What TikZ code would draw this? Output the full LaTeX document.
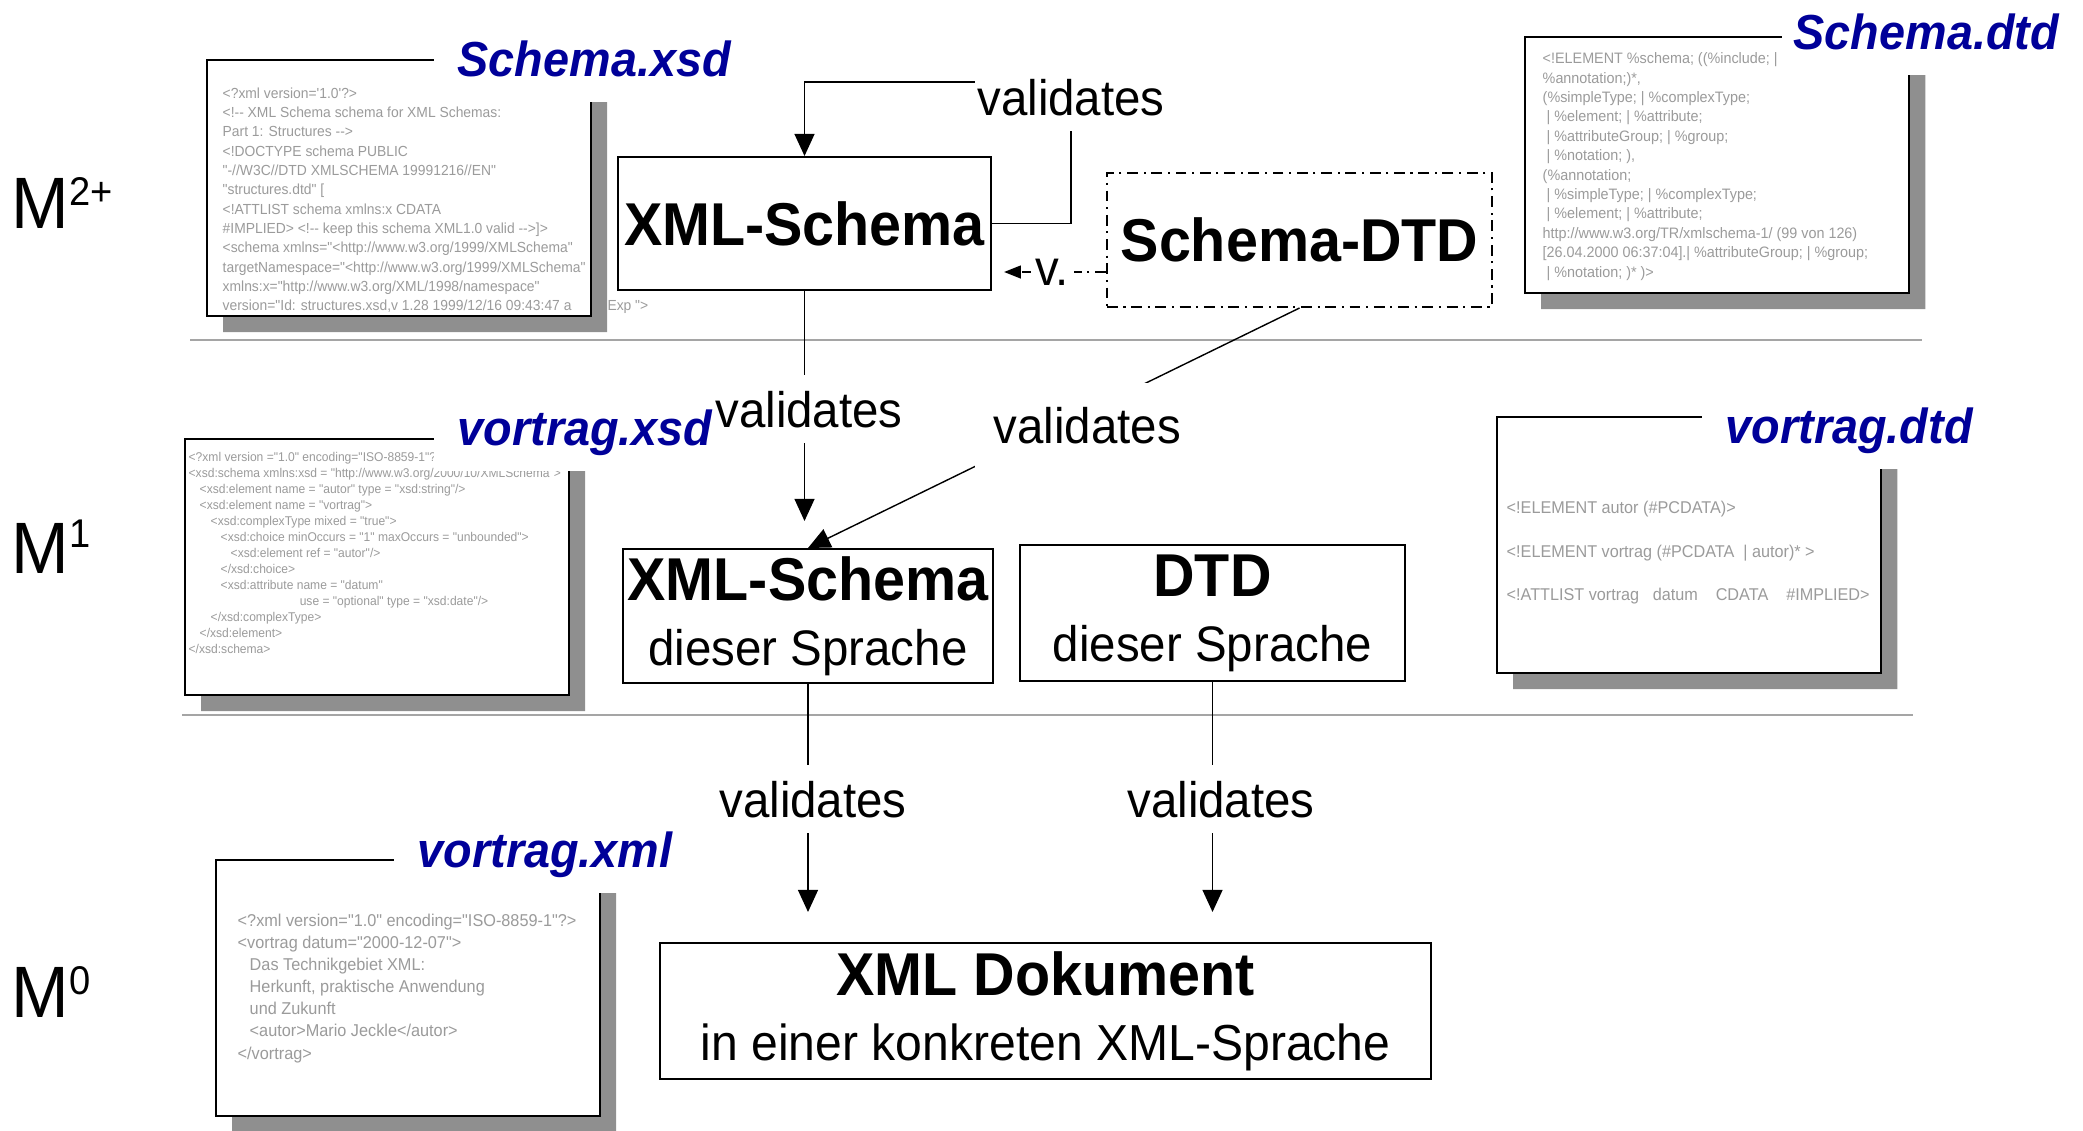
\documentclass[tikz,border=0pt]{standalone}
\usepackage{fontspec}
\setmainfont{Liberation Sans}[FakeStretch=0.95]
\newfontfamily\codefont{Liberation Sans}[FakeStretch=0.95, Ligatures=TeXOff]
\usepackage{xcolor}
\usetikzlibrary{arrows.meta,positioning,calc}

\definecolor{titleblue}{RGB}{0,0,153}
\definecolor{codegray}{RGB}{155,155,155}
\definecolor{shadegray}{RGB}{143,143,143}
\definecolor{rulegray}{RGB}{165,165,165}

\begin{document}
\begin{tikzpicture}[
    x=0.01cm, y=-0.01cm,
    mainbox/.style={rectangle, draw, line width=0.55pt, inner sep=0pt, align=center, font=\fontsize{14.2pt}{18.5pt}\selectfont},
    dashdotline/.style={dash pattern=on 3.1pt off 1.6pt on 0.6pt off 1.6pt},
    lab/.style={inner xsep=0.02cm, inner ysep=0.15cm, font=\fontsize{14.2pt}{17pt}\selectfont},
    conn/.style={line width=0.4pt},
    arr/.style={conn, -{Triangle[length=6.3pt, width=5.7pt]}},
    sheetpage/.style={rectangle, fill=white, minimum width=3.84cm, minimum height=2.56cm, anchor=north west, inner sep=0pt, outer sep=0pt},
    sheetline/.style={line width=0.6pt},
    sheetshade/.style={fill=shadegray},
    sheettitle/.style={fill=white, text=titleblue, font=\bfseries\itshape\fontsize{14pt}{16pt}\selectfont, inner xsep=0.24cm, inner ysep=0.16cm, text depth=0.1cm, anchor=base west},
    codetext/.style={text=codegray, align=left, anchor=north west, inner sep=0pt},
    mlevel/.style={font=\fontsize{20.7pt}{24pt}\selectfont, anchor=base west, inner sep=0pt},
    levelrule/.style={draw=rulegray, line width=0.65pt}
]
\useasboundingbox (0,0) rectangle (2083,1130);

% meta levels
\draw[levelrule] (190,340) -- (1922,340);
\draw[levelrule] (182,715) -- (1913,715);
\node[mlevel] (m2) at (11,228) {M\raisebox{0.22cm}{\fontsize{11.4pt}{12pt}\selectfont 2+}};
\node[mlevel] (m1) at (11,573) {M\raisebox{0.25cm}{\fontsize{11.4pt}{12pt}\selectfont 1}};
\node[mlevel] (m0) at (11,1017) {M\raisebox{0.23cm}{\fontsize{11.4pt}{12pt}\selectfont 0}};

% Schema.xsd
\node[sheetpage] (pgxsd) at (207,60) {};
\node[codetext, font=\codefont\fontsize{4.15pt}{5.49pt}\selectfont] (txxsd) at (222,87) {<?xml version='1.0'?>\\
<!-- XML Schema schema for XML Schemas:\\
Part 1: Structures -->\\
<!DOCTYPE schema PUBLIC\\
"-//W3C//DTD XMLSCHEMA 19991216//EN"\\
"structures.dtd" [\\
<!ATTLIST schema xmlns:x CDATA\\
\#IMPLIED> <!-- keep this schema XML1.0 valid -->]>\\
<schema xmlns="<http://www.w3.org/1999/XMLSchema"\\
targetNamespace="<http://www.w3.org/1999/XMLSchema"\\
xmlns:x="http://www.w3.org/XML/1998/namespace"\\
version="Id: structures.xsd,v 1.28 1999/12/16 09:43:47 a\hspace{0.36cm}Exp ">};
\fill[sheetshade] ($(pgxsd.north east)+(0,16)$) -- ++(16,0) |- ($(pgxsd.south west)+(16,16)$) -- ++(0,-16) -- (pgxsd.south east) -- cycle;
\draw[sheetline] (pgxsd.north east) rectangle (pgxsd.south west);
\node[sheettitle] (ttxsd) at (433,76) {Schema.xsd};

% Schema.dtd
\node[sheetpage] (pgsdtd) at (1525,37) {};
\node[codetext, font=\codefont\fontsize{4.3pt}{5.52pt}\selectfont] (txsdtd) at (1542,52) {<!ELEMENT \%schema; ((\%include; |\\
\%annotation;)*,\\
(\%simpleType; | \%complexType;\\
\hspace*{0.04cm}| \%element; | \%attribute;\\
\hspace*{0.04cm}| \%attributeGroup; | \%group;\\
\hspace*{0.04cm}| \%notation; ),\\
(\%annotation;\\
\hspace*{0.04cm}| \%simpleType; | \%complexType;\\
\hspace*{0.04cm}| \%element; | \%attribute;\\
http://www.w3.org/TR/xmlschema-1/ (99 von 126)\\
{[}26.04.2000 06:37:04{]}.| \%attributeGroup; | \%group;\\
\hspace*{0.04cm}| \%notation; )* )>};
\fill[sheetshade] ($(pgsdtd.north east)+(0,16)$) -- ++(16,0) |- ($(pgsdtd.south west)+(16,16)$) -- ++(0,-16) -- (pgsdtd.south east) -- cycle;
\draw[sheetline] (pgsdtd.north east) rectangle (pgsdtd.south west);
\node[sheettitle, inner xsep=0.12cm] (ttsdtd) at (1781,49) {Schema.dtd};

% vortrag.xsd
\node[sheetpage] (pgvxsd) at (185,439) {};
\node[codetext, font=\codefont\fontsize{3.61pt}{4.55pt}\selectfont] (txvxsd) at (188,452) {<?xml version ="1.0" encoding="ISO-8859-1"?>\\
<xsd:schema xmlns:xsd = "http://www.w3.org/2000/10/XMLSchema">\\
\hspace*{0.11cm}<xsd:element name = "autor" type = "xsd:string"/>\\
\hspace*{0.11cm}<xsd:element name = "vortrag">\\
\hspace*{0.22cm}<xsd:complexType mixed = "true">\\
\hspace*{0.32cm}<xsd:choice minOccurs = "1" maxOccurs = "unbounded">\\
\hspace*{0.42cm}<xsd:element ref = "autor"/>\\
\hspace*{0.32cm}</xsd:choice>\\
\hspace*{0.32cm}<xsd:attribute name = "datum"\\
\hspace*{1.11cm}use = "optional" type = "xsd:date"/>\\
\hspace*{0.22cm}</xsd:complexType>\\
\hspace*{0.11cm}</xsd:element>\\
</xsd:schema>};
\fill[sheetshade] ($(pgvxsd.north east)+(0,16)$) -- ++(16,0) |- ($(pgvxsd.south west)+(16,16)$) -- ++(0,-16) -- (pgvxsd.south east) -- cycle;
\draw[sheetline] (pgvxsd.north east) rectangle (pgvxsd.south west);
\node[sheettitle] (ttvxsd) at (433,445) {vortrag.xsd};

% vortrag.dtd
\node[sheetpage] (pgvdtd) at (1497,417) {};
\node[codetext, font=\codefont\fontsize{4.85pt}{12.5pt}\selectfont] (txvdtd) at (1506,500) {<!ELEMENT autor (\#PCDATA)>\\
<!ELEMENT vortrag (\#PCDATA\ \ | autor)* >\\
<!ATTLIST vortrag\ \ \ datum\ \ \ \ CDATA\ \ \ \ \#IMPLIED>};
\fill[sheetshade] ($(pgvdtd.north east)+(0,16)$) -- ++(16,0) |- ($(pgvdtd.south west)+(16,16)$) -- ++(0,-16) -- (pgvdtd.south east) -- cycle;
\draw[sheetline] (pgvdtd.north east) rectangle (pgvdtd.south west);
\node[sheettitle] (ttvdtd) at (1701,443) {vortrag.dtd};

% vortrag.xml
\node[sheetpage] (pgvxml) at (216,860) {};
\node[codetext, font=\codefont\fontsize{4.87pt}{6.3pt}\selectfont] (txvxml) at (237,913) {<?xml version="1.0" encoding="ISO-8859-1"?>\\
<vortrag datum="2000-12-07">\\
\hspace*{0.12cm}Das Technikgebiet XML:\\
\hspace*{0.12cm}Herkunft, praktische Anwendung\\
\hspace*{0.12cm}und Zukunft\\
\hspace*{0.12cm}<autor>Mario Jeckle</autor>\\
</vortrag>};
\fill[sheetshade] ($(pgvxml.north east)+(0,16)$) -- ++(16,0) |- ($(pgvxml.south west)+(16,16)$) -- ++(0,-16) -- (pgvxml.south east) -- cycle;
\draw[sheetline] (pgvxml.north east) rectangle (pgvxml.south west);
\node[sheettitle] (ttvxml) at (393,867) {vortrag.xml};

% languages and documents
\node[mainbox, minimum width=3.73cm, minimum height=1.33cm] (xs) at (804.5,223.5) {{\bfseries\fontsize{17.2pt}{18.5pt}\selectfont XML-Schema}};
\node[mainbox, dashdotline, minimum width=3.85cm, minimum height=1.34cm] (sdtd) at (1299.5,240) {{\bfseries\fontsize{17.2pt}{18.5pt}\selectfont Schema-DTD}};
\node[mainbox, minimum width=3.70cm, minimum height=1.34cm] (xs1) at (808,616) {{\bfseries\fontsize{17.2pt}{18.5pt}\selectfont XML-Schema}\\dieser Sprache};
\node[mainbox, minimum width=3.85cm, minimum height=1.36cm] (dtd) at (1212.5,613) {{\bfseries\fontsize{17.2pt}{18.5pt}\selectfont DTD}\\dieser Sprache};
\node[mainbox, minimum width=7.71cm, minimum height=1.36cm] (doc) at (1045.5,1011) {{\bfseries\fontsize{17.2pt}{18.5pt}\selectfont XML Dokument}\\{\fontsize{14.4pt}{18.5pt}\selectfont in einer konkreten XML-Sprache}};

% validates
\node[lab, anchor=base] (valtop) at (1071,115) {validates};
\draw[conn] (xs.east) -| (valtop.south);
\draw[arr] ($(valtop.west)+(0,-15)$) -| (xs.north);

\coordinate (vrow) at (0,272);
\draw[conn, dashdotline, -{Triangle[length=4.8pt, width=3.7pt]}, shorten >=0.12cm] (sdtd.west |- vrow) -- node[pos=0.47, fill=white, inner xsep=0.05cm, inner ysep=0pt, font=\fontsize{14.2pt}{17pt}\selectfont] (vnote) {v.} (xs.east |- vrow);

\node[lab, anchor=base] (val1) at (809,427) {validates};
\draw[conn] (xs.south) -- (xs.south |- val1.north);
\draw[arr, shorten >=0.27cm] (xs.south |- val1.south) -- (xs.south |- xs1.north);

\draw[arr] (sdtd.south) -- node[lab, fill=white, inner xsep=0.19cm, inner ysep=0.25cm, pos=0.432, yshift=-0.144cm] (val2) {validates} (xs1.north);

\node[lab, anchor=base] (val3) at (813,817) {validates};
\node[lab, anchor=base] (val4) at (1221,817) {validates};
\draw[conn] (xs1.south) -- (xs1.south |- val3.north);
\draw[arr, shorten >=0.3cm] (xs1.south |- val3.south) -- (xs1.south |- doc.north);
\draw[conn] (dtd.south) -- (dtd.south |- val4.north);
\draw[arr, shorten >=0.3cm] (dtd.south |- val4.south) -- (dtd.south |- doc.north);

\end{tikzpicture}
\end{document}
